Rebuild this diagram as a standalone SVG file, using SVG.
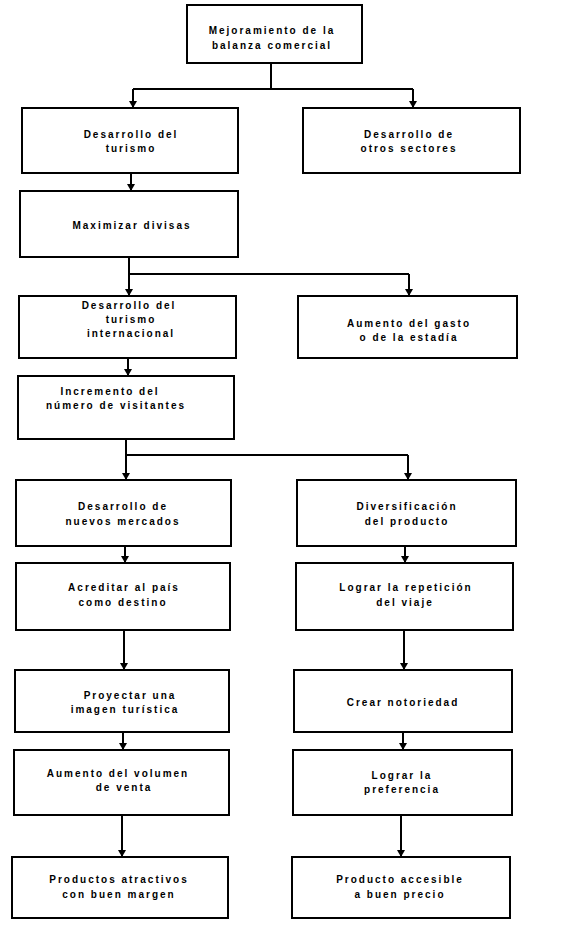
<svg xmlns="http://www.w3.org/2000/svg" width="561" height="925" viewBox="0 0 561 925">
<defs>
<style>
.box{fill:#fff;stroke:#000;stroke-width:2}
.t{font-family:"Liberation Sans",Arial,sans-serif;font-weight:bold;font-size:10px;letter-spacing:2px;text-anchor:middle;fill:#000}
.c{fill:none;stroke:#000;stroke-width:2}
</style>
<marker id="ah" markerWidth="8" markerHeight="8" refX="7" refY="4" orient="auto" markerUnits="userSpaceOnUse" viewBox="0 0 8 8">
<path d="M0,0 L7,4 L0,8 Z" fill="#000"/>
</marker>
</defs>
<rect width="561" height="925" fill="#fff"/>
<g id="n1"><rect class="box" x="187" y="5" width="175" height="58"/>
<text class="t" x="272" y="34">Mejoramiento de la</text><text class="t" x="272" y="49">balanza comercial</text></g>
<g id="n2"><rect class="box" x="22" y="108" width="216" height="65"/>
<text class="t" x="131" y="138">Desarrollo del</text><text class="t" x="131" y="152">turismo</text></g>
<g id="n3"><rect class="box" x="303" y="108" width="217" height="65"/>
<text class="t" x="409" y="138">Desarrollo de</text><text class="t" x="409" y="152">otros sectores</text></g>
<g id="n4"><rect class="box" x="20" y="191" width="218" height="66"/>
<text class="t" x="132" y="229">Maximizar divisas</text></g>
<g id="n5"><rect class="box" x="19" y="296" width="217" height="62"/>
<text class="t" x="129" y="309">Desarrollo del</text><text class="t" x="131" y="323">turismo</text><text class="t" x="131" y="337">internacional</text></g>
<g id="n6"><rect class="box" x="298" y="296" width="219" height="62"/>
<text class="t" x="409" y="327">Aumento del gasto</text><text class="t" x="409" y="341">o de la estadía</text></g>
<g id="n7"><rect class="box" x="18" y="376" width="216" height="63"/>
<text class="t" x="110" y="395">Incremento del</text><text class="t" x="116" y="409">número de visitantes</text></g>
<g id="n8"><rect class="box" x="16" y="480" width="215" height="66"/>
<text class="t" x="123" y="510">Desarrollo de</text><text class="t" x="123" y="525">nuevos mercados</text></g>
<g id="n9"><rect class="box" x="297" y="480" width="219" height="66"/>
<text class="t" x="407" y="510">Diversificación</text><text class="t" x="407" y="525">del producto</text></g>
<g id="n10"><rect class="box" x="16" y="563" width="214" height="67"/>
<text class="t" x="124" y="591">Acreditar al país</text><text class="t" x="123" y="606">como destino</text></g>
<g id="n11"><rect class="box" x="296" y="563" width="217" height="67"/>
<text class="t" x="406" y="591">Lograr la repetición</text><text class="t" x="405" y="606">del viaje</text></g>
<g id="n12"><rect class="box" x="15" y="670" width="214" height="62"/>
<text class="t" x="130" y="699">Proyectar una</text><text class="t" x="125" y="713">imagen turística</text></g>
<g id="n13"><rect class="box" x="294" y="670" width="218" height="62"/>
<text class="t" x="403" y="706">Crear notoriedad</text></g>
<g id="n14"><rect class="box" x="14" y="750" width="215" height="65"/>
<text class="t" x="118" y="777">Aumento del volumen</text><text class="t" x="124" y="791">de venta</text></g>
<g id="n15"><rect class="box" x="293" y="750" width="219" height="65"/>
<text class="t" x="402" y="779">Lograr la</text><text class="t" x="402" y="793">preferencia</text></g>
<g id="n16"><rect class="box" x="12" y="857" width="216" height="61"/>
<text class="t" x="119" y="883">Productos atractivos</text><text class="t" x="119" y="898">con buen margen</text></g>
<g id="n17"><rect class="box" x="292" y="857" width="218" height="61"/>
<text class="t" x="400" y="883">Producto accesible</text><text class="t" x="400" y="898">a buen precio</text></g>
<g id="connectors">
<path class="c" d="M271,64 V89 M133,89 H413"/>
<path class="c" d="M133,89 V108" marker-end="url(#ah)"/>
<path class="c" d="M413,89 V108" marker-end="url(#ah)"/>
<path class="c" d="M131,174 V191" marker-end="url(#ah)"/>
<path class="c" d="M129,258 V274 H409"/>
<path class="c" d="M129,274 V296" marker-end="url(#ah)"/>
<path class="c" d="M409,274 V296" marker-end="url(#ah)"/>
<path class="c" d="M128,359 V376" marker-end="url(#ah)"/>
<path class="c" d="M126,440 V455 H408"/>
<path class="c" d="M126,455 V480" marker-end="url(#ah)"/>
<path class="c" d="M408,455 V480" marker-end="url(#ah)"/>
<path class="c" d="M125,547 V563" marker-end="url(#ah)"/>
<path class="c" d="M405,547 V563" marker-end="url(#ah)"/>
<path class="c" d="M124,631 V670" marker-end="url(#ah)"/>
<path class="c" d="M404,631 V670" marker-end="url(#ah)"/>
<path class="c" d="M123,733 V750" marker-end="url(#ah)"/>
<path class="c" d="M403,733 V750" marker-end="url(#ah)"/>
<path class="c" d="M122,816 V857" marker-end="url(#ah)"/>
<path class="c" d="M401,816 V857" marker-end="url(#ah)"/>
</g>
</svg>
